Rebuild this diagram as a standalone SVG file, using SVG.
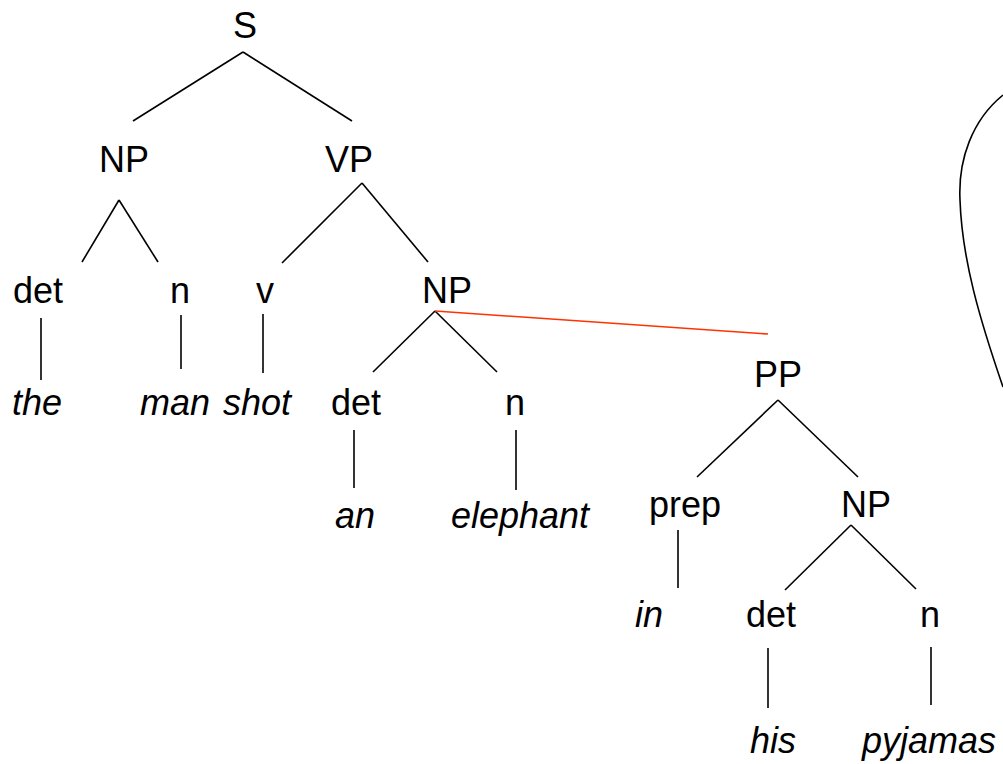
<svg xmlns="http://www.w3.org/2000/svg" width="1003" height="764" viewBox="0 0 1003 764">
<style>
text{font-family:"Liberation Sans",Arial,sans-serif;font-size:36px;fill:#000;text-anchor:middle}
.w{font-style:italic}
line,path{stroke:#000;stroke-width:1.6;fill:none}
.red{stroke:#ff3300}
</style>
<rect width="1003" height="764" fill="#fff"/>
<g id="connectors">
<line x1="243" y1="52" x2="133" y2="121"/>
<line x1="243" y1="52" x2="352" y2="121"/>
<line x1="119" y1="200" x2="82" y2="262"/>
<line x1="119" y1="200" x2="158" y2="262"/>
<line x1="362" y1="183" x2="282" y2="263"/>
<line x1="362" y1="183" x2="428" y2="262"/>
<line x1="41" y1="318" x2="41" y2="380"/>
<line x1="181" y1="315" x2="181" y2="369"/>
<line x1="263" y1="314" x2="263" y2="373"/>
<line x1="435" y1="311" x2="373" y2="372"/>
<line x1="435" y1="311" x2="497" y2="372"/>
<line class="red" x1="435" y1="311" x2="768" y2="334"/>
<line x1="354" y1="430" x2="354" y2="488"/>
<line x1="516" y1="430" x2="516" y2="490"/>
<line x1="778" y1="400" x2="697" y2="477"/>
<line x1="778" y1="400" x2="858" y2="477"/>
<line x1="678" y1="530" x2="678" y2="588"/>
<line x1="851" y1="525" x2="785" y2="590"/>
<line x1="851" y1="525" x2="916" y2="589"/>
<line x1="768" y1="648" x2="768" y2="708"/>
<line x1="931" y1="647" x2="931" y2="705"/>
<path d="M1003,95 C972,120 958,160 960,200 C962,260 980,320 1003,387"/>
</g>
<g id="n-S"><text x="245" y="38">S</text></g>
<g id="n-NP1"><text x="124" y="172">NP</text></g>
<g id="n-VP"><text x="349" y="172">VP</text></g>
<g id="n-det1"><text x="38" y="303">det</text></g>
<g id="n-n1"><text x="180" y="303">n</text></g>
<g id="n-v"><text x="265" y="303">v</text></g>
<g id="n-NP2"><text x="447" y="303">NP</text></g>
<g id="n-the"><text class="w" x="37" y="415">the</text></g>
<g id="n-man"><text class="w" x="175" y="415">man</text></g>
<g id="n-shot"><text class="w" x="257" y="415">shot</text></g>
<g id="n-det2"><text x="356" y="415">det</text></g>
<g id="n-n2"><text x="515" y="415">n</text></g>
<g id="n-PP"><text x="778" y="387">PP</text></g>
<g id="n-an"><text class="w" x="355" y="528">an</text></g>
<g id="n-elephant"><text class="w" x="520" y="528">elephant</text></g>
<g id="n-prep"><text x="685" y="517">prep</text></g>
<g id="n-NP3"><text x="866" y="517">NP</text></g>
<g id="n-in"><text class="w" x="649" y="627">in</text></g>
<g id="n-det3"><text x="771" y="627">det</text></g>
<g id="n-n3"><text x="930" y="627">n</text></g>
<g id="n-his"><text class="w" x="773" y="753">his</text></g>
<g id="n-pyjamas"><text class="w" x="929" y="753">pyjamas</text></g>
</svg>
